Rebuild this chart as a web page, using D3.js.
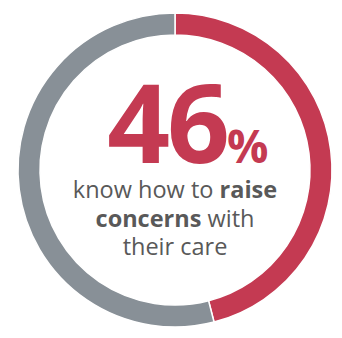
<!DOCTYPE html>
<html>
<head>
<meta charset="utf-8">
<script src="https://cdn.jsdelivr.net/npm/d3@7"></script>
<style>
  html, body { margin: 0; padding: 0; background: #fff; }
  svg { display: block; }
</style>
</head>
<body>
<div id="chart"></div>
<script>
// chart values
const categories = ['Know how to raise concerns', 'Do not know'];
const shares = [46, 54];
const colours = ['#C43A52', '#889097'];
const headline = '46';
const captionLines = [
  [{ t: 'know how to ', b: false }, { t: 'raise', b: true }],
  [{ t: 'concerns', b: true }, { t: ' with', b: false }],
  [{ t: 'their care', b: false }]
];

const width = 342;
const height = 338;
const cx = 175, cy = 170;
const outerR = 157, innerR = 135;

const svg = d3.select('#chart')
  .append('svg')
  .attr('width', width)
  .attr('height', height);

const g = svg.append('g').attr('transform', `translate(${cx},${cy})`);

const pie = d3.pie().sort(null).value(d => d);
const arc = d3.arc().innerRadius(innerR).outerRadius(outerR);

g.selectAll('path')
  .data(pie(shares))
  .join('path')
  .attr('d', arc)
  .attr('fill', (d, i) => colours[i])
  .attr('stroke', '#fff')
  .attr('stroke-width', 1.5);

// big number
const font = "'Open Sans', 'Noto Sans', sans-serif";
svg.append('text')
  .attr('x', 227)
  .attr('y', 163)
  .attr('text-anchor', 'end')
  .attr('font-family', font)
  .attr('font-weight', 700)
  .attr('font-size', 110)
  .attr('letter-spacing', -3)
  .attr('fill', colours[0])
  .text(headline);

svg.append('text')
  .attr('x', 227)
  .attr('y', 163)
  .attr('font-family', font)
  .attr('font-weight', 700)
  .attr('font-size', 46)
  .attr('fill', colours[0])
  .text('%');

// caption
const baselines = [198, 227, 255];
captionLines.forEach((parts, i) => {
  const t = svg.append('text')
    .attr('x', 175)
    .attr('y', baselines[i])
    .attr('text-anchor', 'middle')
    .attr('font-family', font)
    .attr('font-size', 23.5)
    .attr('fill', '#595959');
  parts.forEach(p => {
    t.append('tspan')
      .attr('font-weight', p.b ? 700 : 400)
      .text(p.t);
  });
});
</script>
</body>
</html>
